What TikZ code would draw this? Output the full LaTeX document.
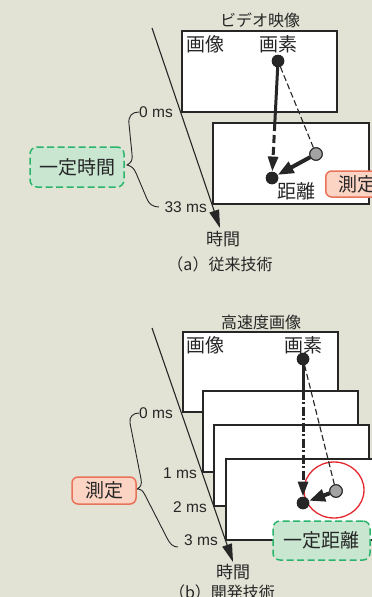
\documentclass[tikz,border=0pt]{standalone}
\usepackage{fontspec}
\setmainfont{Liberation Sans}
\newfontfamily\cjk{Noto Sans CJK JP}
\usetikzlibrary{arrows.meta,calc,shapes.geometric}
\definecolor{bg}{HTML}{E2E3D5}
\definecolor{ink}{HTML}{262626}
\definecolor{gfill}{HTML}{C9E6D1}
\definecolor{gline}{HTML}{2AB46C}
\definecolor{ofill}{HTML}{FBD4C4}
\definecolor{oline}{HTML}{E8735A}
\definecolor{dotgrey}{HTML}{A3A3A3}
\definecolor{ring}{HTML}{E4262C}
\begin{document}
\begin{tikzpicture}[x=1pt,y=-1pt,
  frame/.style={draw=ink, line width=1.2pt, fill=white, anchor=north west, inner sep=0pt, outer sep=0pt},
  lab/.style={font=\cjk\fontsize{19}{19}\selectfont, text=ink, inner sep=0pt},
  ttl/.style={font=\cjk\fontsize{16}{16}\selectfont, text=ink, inner sep=0pt},
  captxt/.style={font=\cjk\fontsize{16}{16}\selectfont, text=ink, inner sep=0pt},
  ms/.style={font=\fontsize{15.5}{15.5}\selectfont, text=ink, anchor=east, inner sep=0pt},
  dotb/.style={circle, fill=ink, inner sep=0pt, minimum size=12.5pt},
  dotg/.style={circle, fill=dotgrey, draw=ink, line width=1pt, inner sep=0pt, minimum size=12.5pt},
  gbox/.style={draw=gline, fill=gfill, dash pattern=on 7pt off 3.5pt, rounded corners=7pt, line width=1.5pt, font=\cjk\fontsize{19}{19}\selectfont, text=ink, inner sep=0pt},
  obox/.style={draw=oline, fill=ofill, rounded corners=6pt, line width=1.5pt, font=\cjk\fontsize{19}{19}\selectfont, text=ink, inner sep=0pt},
  tl/.style={line width=1.1pt, draw=ink, -{Triangle[length=18pt,width=10pt]}},
  brace/.style={line width=0.9pt, draw=ink},
  solidv/.style={line width=3pt, draw=ink},
  dashv/.style={line width=3pt, draw=ink, dash pattern=on 8pt off 4pt, -{Triangle[length=15pt,width=10pt]}},
  dashdotv/.style={line width=3pt, draw=ink, dash pattern=on 9pt off 2.5pt on 2pt off 2.5pt, -{Triangle[length=15pt,width=10pt]}},
  thin/.style={line width=1.1pt, draw=ink, dash pattern=on 6pt off 3pt},
  move/.style={line width=4pt, draw=ink, -{Triangle[length=16pt,width=12pt]}}
]
\clip (0,0) rectangle (372,597);
\fill[bg] (0,0) rectangle (372,597);

% ---------------- top: (a) ----------------
\node[ttl] (t1) at (260,20) {ビデオ映像};
\node[frame, minimum width=155pt, minimum height=81pt] (b1) at (182,31) {};
\node[frame, minimum width=156pt, minimum height=81pt] (b2) at (213,123) {};
\node[lab] (g1) at (205,44) {画像};
\node[lab] (s1) at (278,44) {画素};
\node[lab] (k1) at (296,191) {距離};

\coordinate (ts1) at (152,28);
\coordinate (te1) at (220,228);
\draw[tl] (ts1) -- (te1);
\node[ms] (z1) at (173,112) {0 ms};
\node[ms] (z2) at (207,207) {33 ms};
\node[lab, font=\cjk\fontsize{17}{17}\selectfont] (j1) at (223,239) {時間};
\node[captxt] (c1) at (220,264) {（a）従来技術};

\draw[brace] (139,112) .. controls (132,112) and (128,116) .. (129,124) -- (132,154) .. controls (133,160) and (131,163) .. (127,165) .. controls (131,166) and (134,168) .. (136,173) -- (147,199) .. controls (149,204) and (153,207) .. (159,207);

\node[gbox, minimum width=94pt, minimum height=40pt] (kt) at (77,167) {一定時間};
\node[obox, minimum width=64pt, minimum height=26pt, anchor=west] (sk1) at (325,184) {測定};

\node[dotb] (p1) at (278,61) {};
\node[dotb] (d1) at (272,178) {};
\node[dotg] (q1) at (316,154) {};
\coordinate (m1) at ($(p1)!0.53!(d1)$);
\draw[solidv] (p1.center) -- (m1);
\draw[dashv] (m1) -- (d1);
\draw[thin] (p1) -- (q1);
\draw[move] (q1) -- (d1);
\node[dotb] at (p1) {};
\node[dotb] at (d1) {};
\node[dotg] at (q1) {};

% ---------------- bottom: (b) ----------------
\node[ttl] (t2) at (261,322) {高速度画像};
\node[frame, minimum width=155pt, minimum height=80pt] (e1) at (183,332) {};
\node[frame, minimum width=155pt, minimum height=81pt] (e2) at (203,391) {};
\node[frame, minimum width=155pt, minimum height=81pt] (e3) at (214,425) {};
\node[frame, minimum width=155pt, minimum height=81pt] (e4) at (226,459) {};
\node[lab] (g2) at (205,345) {画像};
\node[lab] (s2) at (303,345) {画素};

\coordinate (ts2) at (152,328);
\coordinate (te2) at (233,562);
\draw[tl] (ts2) -- (te2);
\node[ms] (y0) at (173,413) {0 ms};
\node[ms] (y1) at (197,473) {1 ms};
\node[ms] (y2) at (207,507) {2 ms};
\node[ms] (y3) at (218,540) {3 ms};
\node[lab, font=\cjk\fontsize{17}{17}\selectfont] (j2) at (233,572) {時間};
\node[captxt] (c2) at (222,592) {（b）開発技術};

\draw[brace] (139,413) .. controls (133,413) and (129,417) .. (130,423) -- (141,479) .. controls (142,484) and (141,487) .. (137,489) .. controls (141,489) and (143,491) .. (145,495) -- (167,538) .. controls (170,544) and (173,547) .. (178,547);

\node[obox, minimum width=64pt, minimum height=27pt] (sk2) at (104,490.5) {測定};

\node[draw=ring, line width=1.3pt, ellipse, minimum width=60pt, minimum height=56pt, inner sep=0pt] (rc) at (334,490) {};

\node[dotb] (p2) at (303,359) {};
\node[dotb] (d2) at (303,503) {};
\node[dotg] (q2) at (336,491) {};
\coordinate (m2) at ($(p2)!0.22!(d2)$);
\draw[solidv] (p2.center) -- (m2);
\draw[dashdotv] (m2) -- (d2);
\draw[thin] (p2) -- (q2);
\draw[move] (q2) -- (d2);
\node[dotb] at (p2) {};
\node[dotb] at (d2) {};
\node[dotg] at (q2) {};

\node[gbox, minimum width=97pt, minimum height=39pt] (kd) at (321.5,540.5) {一定距離};
\end{tikzpicture}
\end{document}
